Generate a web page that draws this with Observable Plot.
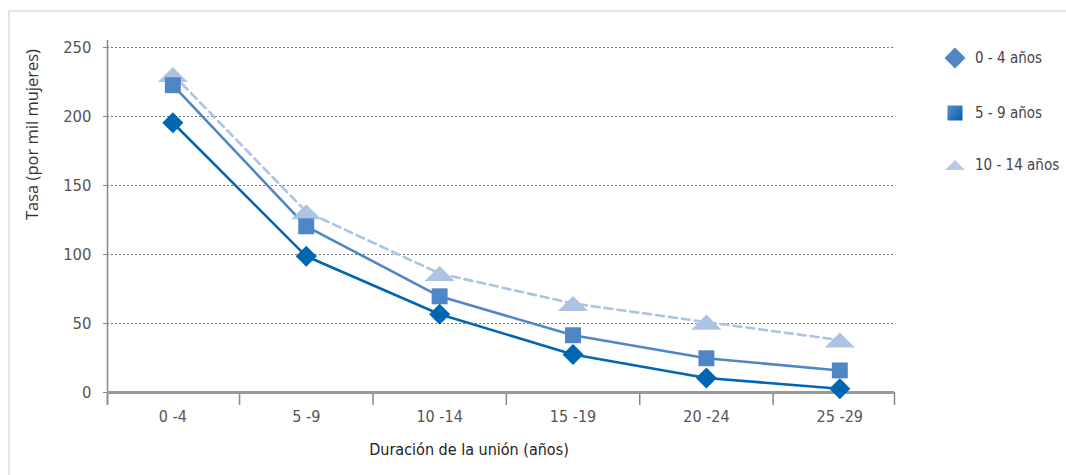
<!DOCTYPE html>
<html>
<head>
<meta charset="utf-8">
<script src="https://cdn.jsdelivr.net/npm/d3@7"></script>
<script src="https://cdn.jsdelivr.net/npm/@observablehq/plot@0.6"></script>
<style>
  body { margin: 0; background: #fff; }
  #wrap { position: relative; width: 1066px; height: 475px; overflow: hidden; background: #fff; }
  #frame { position: absolute; left: 8px; top: 10px; width: 1100px; height: 500px;
           border-top: 2px solid #e4e4e4; border-left: 2px solid #e4e4e4; }
  #chart { position: absolute; left: 0; top: 0; }
  #legend { position: absolute; left: 942px; top: 0; font-family: "DejaVu Sans Condensed", "Liberation Sans Narrow", sans-serif;
            font-size: 15px; color: #444; }
  .item { position: absolute; left: 0; display: flex; align-items: center; white-space: nowrap; }
  .item svg { margin-right: 7px; }
</style>
</head>
<body>
<div id="wrap">
  <div id="frame"></div>
  <div id="chart"></div>
  <div id="legend"></div>
</div>
<script>
// ---- data ----
const categories = ["0 -4", "5 -9", "10 -14", "15 -19", "20 -24", "25 -29"];
const seriesNames = ["0 - 4 años", "5 - 9 años", "10 - 14 años"];
const values0to4 = [195.5, 98.7, 56.7, 27.5, 10.5, 2.7];
const values5to9 = [222.7, 120.4, 69.7, 41.5, 24.8, 16];
const values10to14 = [230.5, 131, 86.2, 64.5, 51, 38];
const yTicks = [0, 50, 100, 150, 200, 250];
const xDomain = [-0.49, 5.41];

const seriesColors = ["#0066b2", "#4f87c6", "#adc3e3"];
const legendColors = ["#4f87c6", "#1f6db4", "#b6c9e8"];

const allValues = [values0to4, values5to9, values10to14];
const rows = [];
allValues.forEach((vals, s) => vals.forEach((v, i) => rows.push({series: seriesNames[s], idx: i, cat: categories[i], value: v})));

// flat triangle symbol (wide, short), like the reference
const flatTriangle = {
  draw(context, size) {
    const w = Math.sqrt(size) * 1.0;   // half width
    const h = w * 0.5;                 // half height
    context.moveTo(0, -h);
    context.lineTo(w, h);
    context.lineTo(-w, h);
    context.closePath();
  }
};

const boundaries = [xDomain[0], ...categories.slice(0, -1).map((_, i) => i + 0.5), xDomain[1]];
const narrow = '"DejaVu Sans Condensed", "Liberation Sans Narrow", sans-serif';

const bySeries = name => rows.filter(d => d.series === name);

const plot = Plot.plot({
  width: 1066,
  height: 475,
  marginLeft: 107,
  marginRight: 172,
  marginTop: 47,
  marginBottom: 83,
  style: { fontFamily: narrow, fontSize: "16px", color: "#555", background: "transparent" },
  x: { domain: xDomain, label: null },
  y: { domain: [0, 250], label: null },
  marks: [
    Plot.gridY(yTicks.filter(t => t > 0), { stroke: "#777", strokeOpacity: 1, strokeDasharray: "2,2", strokeWidth: 1 }),
    // y axis: tick labels
    Plot.axisY(yTicks, { tickSize: 4, tickPadding: 12, stroke: "#888", fill: "#555", fontSize: 16.5, label: null }),
    // x axis: labels centred under points
    Plot.axisX(categories.map((_, i) => i), { tickSize: 0, tickPadding: 18, tickFormat: i => categories[i], fill: "#555", fontSize: 16, label: null }),
    // x axis: boundary ticks
    Plot.axisX(boundaries, { tickSize: 13, tickFormat: () => "", stroke: "#888", strokeWidth: 1.5, label: null }),
    // y axis line
    Plot.ruleX([xDomain[0]], { stroke: "#888", strokeWidth: 1.5, insetTop: -7, insetBottom: -13 }),
    // zero baseline
    Plot.ruleY([0], { stroke: "#999", strokeWidth: 3 }),
    // lines
    Plot.line(bySeries(seriesNames[2]), { x: "idx", y: "value", stroke: seriesColors[2], strokeWidth: 2.6, strokeDasharray: "8,5" }),
    Plot.line(bySeries(seriesNames[1]), { x: "idx", y: "value", stroke: seriesColors[1], strokeWidth: 2.6 }),
    Plot.line(bySeries(seriesNames[0]), { x: "idx", y: "value", stroke: seriesColors[0], strokeWidth: 2.6 }),
    // markers
    Plot.dot(bySeries(seriesNames[2]), { x: "idx", y: "value", symbol: flatTriangle, r: 8.5, fill: seriesColors[2], stroke: "none" }),
    Plot.dot(bySeries(seriesNames[1]), { x: "idx", y: "value", symbol: "square", r: 9, fill: seriesColors[1], stroke: "none" }),
    Plot.dot(bySeries(seriesNames[0]), { x: "idx", y: "value", symbol: "diamond2", r: 9.5, fill: seriesColors[0], stroke: "none" }),
    // axis titles
    Plot.text(["Duración de la unión (años)"], { frameAnchor: "bottom", dx: -32, dy: 62, fontSize: 16, fill: "#222", fontFamily: narrow }),
    Plot.text(["Tasa (por mil mujeres)"], { frameAnchor: "left", dx: -75, dy: 0, rotate: -90, fontSize: 16.5, fill: "#333", fontFamily: '"Open Sans", "DejaVu Sans", sans-serif' })
  ]
});
document.getElementById("chart").appendChild(plot);

// ---- legend ----
const legend = document.getElementById("legend");
const legendY = [58, 113, 165];
const markerSvg = [
  `<svg width="26" height="26" viewBox="-13 -13 26 26"><path d="M0,-10.5L10.5,0L0,10.5L-10.5,0Z" fill="${legendColors[0]}"/></svg>`,
  `<svg width="26" height="26" viewBox="-13 -13 26 26"><defs><linearGradient id="g" x1="0" y1="0" x2="1" y2="1"><stop offset="0" stop-color="#5b92cf"/><stop offset="1" stop-color="#005ca8"/></linearGradient></defs><rect x="-7.5" y="-7.5" width="15" height="15" fill="url(#g)"/></svg>`,
  `<svg width="26" height="26" viewBox="-13 -13 26 26"><path d="M0,-5L10,5L-10,5Z" fill="${legendColors[2]}"/></svg>`
];
seriesNames.forEach((name, i) => {
  const div = document.createElement("div");
  div.className = "item";
  div.style.top = (legendY[i] - 13) + "px";
  div.innerHTML = markerSvg[i] + `<span>${name}</span>`;
  legend.appendChild(div);
});
</script>
</body>
</html>
